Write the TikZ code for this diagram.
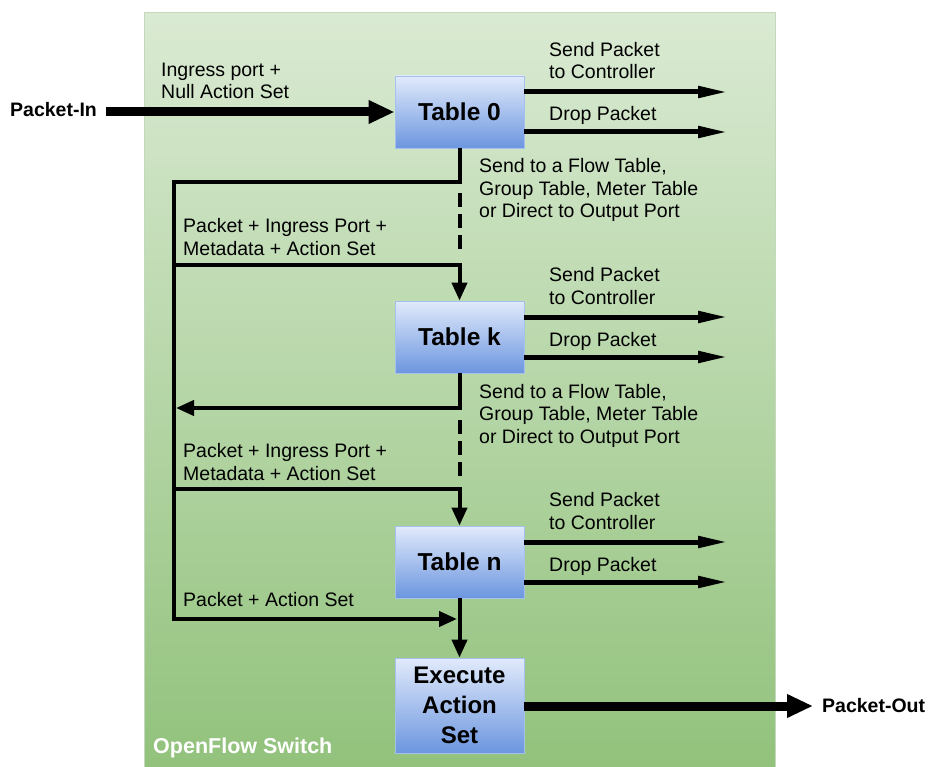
\documentclass[tikz,border=0pt]{standalone}
\usepackage{fontspec}
\setmainfont{Liberation Sans}
\usetikzlibrary{arrows.meta,calc}
\definecolor{swtop}{RGB}{218,234,211}
\definecolor{swbot}{RGB}{146,194,124}
\definecolor{swedge}{RGB}{196,216,188}
\definecolor{tbtop}{RGB}{225,234,251}
\definecolor{tbbot}{RGB}{108,150,223}
\definecolor{tbedge}{RGB}{165,192,236}
\begin{document}
\begin{tikzpicture}[x=1pt,y=-1pt,
  tablebox/.style={draw=tbedge,line width=0.8pt,top color=tbtop,bottom color=tbbot,
    minimum width=129pt,minimum height=72pt,inner sep=0pt,align=center,
    font=\fontsize{24.5}{30}\selectfont\bfseries},
  % multi-line labels: the base anchor sits on the last line
  lbl/.style={anchor=base west,inner sep=0pt,align=left,
    font=\fontsize{19.5}{22.5}\selectfont},
  portlbl/.style={anchor=base west,inner sep=0pt,font=\fontsize{19.5}{22.5}\selectfont\bfseries},
  flow/.style={line width=4pt},
  flowarrow/.style={line width=4pt,-{Triangle[length=18pt,width=15pt]}},
  skip/.style={line width=4pt,dash pattern=on 14pt off 7pt},
  outarrow/.style={line width=5pt,-{Triangle[length=30pt,width=11pt]}},
  bigarrow/.style={line width=9pt,-{Triangle[length=26pt,width=22pt]}},
]
\useasboundingbox (0,0) rectangle (928,767);

% switch body
\fill[top color=swtop,bottom color=swbot] (144,13) rectangle (775,767);
\draw[swedge,line width=1pt] (144,767) -- (144,13) -- (775,13) -- (775,767);
\node[anchor=base west,inner sep=0pt,text=white,font=\fontsize{21.5}{24}\selectfont\bfseries]
  (sw) at (153,753) {OpenFlow Switch};

% flow tables
\node[tablebox] (t0) at (459.5,112) {Table 0};
\node[tablebox] (tk) at (459.5,337) {Table k};
\node[tablebox] (tn) at (459.5,562) {Table n};
\node[tablebox,minimum height=95pt,font=\fontsize{24}{30}\selectfont\bfseries]
  (ex) at (459.5,705.5) {Execute\\Action\\Set};

% packet in / out
\node[portlbl] (pin) at (10,117) {Packet-In};
\coordinate (pinstart) at (106,112);
\draw[bigarrow] (pinstart) -- (t0.west);
\node[lbl] (inlbl) at (161,99) {Ingress port +\\Null Action Set};

\node[portlbl] (pout) at (822,712) {Packet-Out};
\coordinate (poutend) at (813,706);
\draw[bigarrow] (ex.east |- poutend) -- (poutend);

% controller / drop outputs of each table
\foreach \t/\c in {t0/112,tk/337,tn/562}{
  \coordinate (\t-ctl) at (728,\c-20);
  \coordinate (\t-drop) at (728,\c+20);
  \draw[outarrow] (\t.east |- \t-ctl) -- (\t-ctl);
  \draw[outarrow] (\t.east |- \t-drop) -- (\t-drop);
  \node[lbl] (\t-ctllbl) at (549,\c-33) {Send Packet\\to Controller};
  \node[lbl] (\t-droplbl) at (549,\c+9) {Drop Packet};
}

% next-table / output labels
\node[lbl] (t0-next) at (479,218) {Send to a Flow Table,\\Group Table, Meter Table\\or Direct to Output Port};
\node[lbl] (tk-next) at (479,443) {Send to a Flow Table,\\Group Table, Meter Table\\or Direct to Output Port};
\node[lbl] (pk1) at (183,255) {Packet + Ingress Port +\\Metadata + Action Set};
\node[lbl] (pk2) at (183,480) {Packet + Ingress Port +\\Metadata + Action Set};
\node[lbl] (pk3) at (183,606) {Packet + Action Set};

% pipeline bus on the left
\coordinate (j0) at (174,182);
\coordinate (j1) at (174,265);
\coordinate (jb) at (176,408);
\coordinate (j2) at (174,489);
\coordinate (j3) at (174,619);
\coordinate (j3e) at (457,619);
\draw[flowarrow] (t0.south) |- (j0) -- (j3) -- (j3e);
\draw[flowarrow] (j1) -| (tk.north);
\draw[flowarrow] (tk.south) |- (jb);
\draw[flowarrow] (j2) -| (tn.north);
\draw[flowarrow] (tn.south) -- (ex.north);

% skipped tables
\coordinate (d0a) at (459.5,193);
\coordinate (d0b) at (459.5,253);
\coordinate (d1a) at (459.5,420);
\coordinate (d1b) at (459.5,478);
\draw[skip] (d0a) -- (d0b);
\draw[skip] (d1a) -- (d1b);
\end{tikzpicture}
\end{document}
